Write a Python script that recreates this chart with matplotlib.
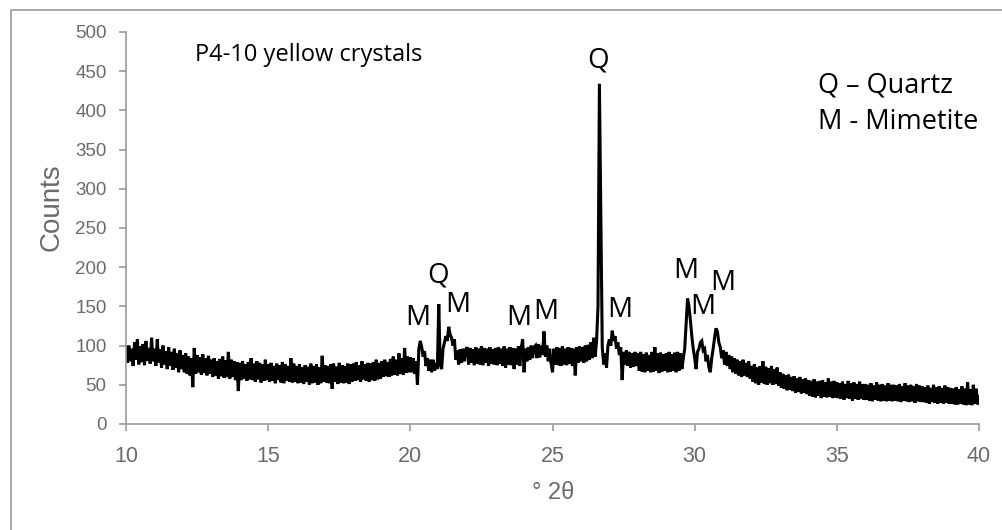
import numpy as np
import matplotlib
matplotlib.use("Agg")
import matplotlib.pyplot as plt
from matplotlib.patches import Rectangle

# ---- data (counts, 2-theta step 0.05 deg from 10 to 40) ----
counts = [
    98, 78, 100, 80, 96, 74, 104, 82, 108, 76, 99, 79, 102, 75, 106, 81, 97, 77, 110, 80,      # 10
    96, 74, 108, 78, 95, 72, 100, 76, 93, 70, 98, 74, 92, 69, 96, 72, 90, 66, 94, 70,          # 11
    88, 66, 90, 64, 86, 62, 84, 47, 97, 64, 88, 66, 85, 63, 89, 65, 84, 62, 87, 64,            # 12
    82, 60, 84, 62, 80, 58, 83, 61, 86, 59, 81, 60, 92, 58, 82, 60, 80, 56, 79, 42,            # 13
    78, 56, 80, 58, 76, 55, 79, 57, 84, 56, 77, 54, 80, 57, 78, 53, 76, 55, 82, 56,            # 14
    76, 54, 78, 55, 74, 52, 77, 56, 75, 53, 79, 52, 76, 55, 74, 54, 84, 53, 77, 54,            # 15
    74, 52, 76, 53, 72, 51, 75, 54, 73, 50, 77, 52, 74, 53, 76, 50, 72, 52, 87, 54,            # 16
    75, 53, 74, 52, 76, 45, 77, 54, 73, 51, 78, 53, 75, 52, 74, 53, 77, 51, 76, 54,            # 17
    77, 55, 79, 56, 75, 54, 80, 57, 76, 55, 78, 54, 77, 56, 79, 55, 82, 57, 78, 58,            # 18
    80, 60, 82, 61, 79, 60, 83, 62, 86, 63, 82, 62, 90, 64, 84, 63, 97, 65, 86, 66,            # 19
    85, 66, 84, 64, 80, 50, 96, 106, 98, 86, 93, 74, 84, 68, 82, 66, 82, 68, 78, 70,           # 20
    153, 76, 70, 96, 104, 112, 106, 124, 114, 110, 100, 108, 82, 94, 76, 95, 78, 96, 80, 95,   # 21
    98, 76, 97, 78, 95, 75, 98, 77, 96, 76, 99, 75, 97, 78, 96, 74, 98, 77, 95, 76,            # 22
    97, 75, 98, 77, 96, 74, 99, 72, 96, 76, 98, 75, 97, 70, 96, 76, 99, 74, 97, 108,           # 23
    66, 96, 80, 98, 82, 100, 84, 98, 100, 84, 102, 85, 100, 88, 118, 86, 100, 80, 96, 78,      # 24
    66, 96, 76, 98, 75, 97, 74, 99, 76, 96, 75, 98, 77, 97, 74, 96, 62, 98, 78, 99,            # 25
    80, 98, 78, 100, 80, 101, 82, 104, 84, 110, 86, 106, 150, 434, 262, 98, 76, 90, 72, 100,   # 26
    108, 100, 119, 106, 112, 96, 104, 88, 98, 56, 92, 76, 94, 74, 92, 72, 90, 73, 92, 74,      # 27
    90, 68, 92, 67, 89, 66, 91, 68, 88, 66, 92, 67, 98, 68, 90, 65, 91, 67, 89, 68,            # 28
    90, 66, 92, 67, 89, 68, 91, 66, 92, 68, 90, 70, 84, 96, 128, 160, 150, 132, 112, 96,       # 29
    84, 70, 92, 96, 104, 106, 94, 96, 80, 88, 72, 66, 84, 96, 110, 122, 118, 104, 98, 84,      # 30
    94, 76, 92, 74, 88, 70, 86, 66, 84, 64, 82, 62, 80, 60, 82, 62, 78, 60, 80, 58,            # 31
    74, 54, 76, 52, 72, 50, 74, 53, 80, 51, 73, 50, 71, 52, 74, 50, 70, 51, 72, 49,            # 32
    66, 46, 64, 45, 62, 43, 63, 44, 60, 42, 61, 40, 58, 41, 60, 39, 57, 40, 58, 38,            # 33
    56, 36, 55, 35, 57, 34, 54, 36, 55, 33, 56, 35, 53, 34, 58, 35, 54, 33, 55, 34,            # 34
    53, 33, 52, 32, 54, 31, 51, 33, 55, 32, 52, 30, 53, 32, 51, 31, 54, 32, 51, 31,            # 35
    51, 31, 50, 30, 52, 29, 49, 31, 53, 30, 50, 29, 51, 30, 49, 29, 52, 30, 50, 29,            # 36
    50, 30, 49, 29, 51, 28, 48, 30, 52, 29, 49, 28, 50, 29, 48, 27, 51, 29, 49, 28,            # 37
    48, 28, 47, 27, 49, 26, 46, 28, 50, 27, 47, 26, 48, 27, 46, 26, 49, 27, 47, 26,            # 38
    46, 26, 45, 25, 47, 25, 44, 26, 48, 25, 45, 24, 53, 25, 44, 24, 50, 26, 45, 25,            # 39
    35,                                                                                        # 40
]
two_theta = np.linspace(10, 40, len(counts))

peak_labels = ['Q', 'M', 'Q', 'M', 'M', 'M', 'M', 'M', 'M', 'M']
peak_label_x = [26.60, 20.27, 20.97, 21.68, 23.82, 24.77, 27.38, 29.70, 30.30, 31.00]
peak_label_y = [464, 135, 190, 152, 135, 143, 145, 195, 149, 180]

x_ticks = [10, 15, 20, 25, 30, 35, 40]
y_ticks = [0, 50, 100, 150, 200, 250, 300, 350, 400, 450, 500]

title_text = "P4-10 yellow crystals"
legend_lines = ["Q \u2013 Quartz", "M - Mimetite"]

# ---- figure ----
W, H = 1003, 530
fig = plt.figure(figsize=(W / 100, H / 100), dpi=100)
ax = fig.add_axes([126 / W, 1 - 424 / H, (979 - 126) / W, (424 - 32) / H])

grey = '#9a9a9a'
label_grey = '#6b6b6b'

ax.plot(two_theta, counts, color='black', lw=2.2, solid_joinstyle='miter')

ax.set_xlim(10, 40)
ax.set_ylim(0, 500)
ax.set_xticks(x_ticks)
ax.set_yticks(y_ticks)
for s in ['top', 'right']:
    ax.spines[s].set_visible(False)
for s in ['left', 'bottom']:
    ax.spines[s].set_color(grey)
    ax.spines[s].set_linewidth(1.2)
ax.tick_params(axis='both', direction='out', color=grey, width=1.2, length=5,
               labelcolor=label_grey)
ax.tick_params(axis='y', labelsize=13.5, pad=9)
ax.tick_params(axis='x', labelsize=15.5, pad=11)
for lab in ax.get_xticklabels() + ax.get_yticklabels():
    lab.set_fontfamily('Liberation Sans')

ax.set_ylabel("Counts", fontsize=20, color=label_grey, family='Liberation Sans')
ax.yaxis.set_label_coords((52 - 126) / 853, (424 - 207) / 392)
ax.yaxis.label.set_va('center')
ax.set_xlabel("\u00b0 2\u03b8", fontsize=17, color=label_grey, family='Liberation Sans')
ax.xaxis.set_label_coords((553 - 126) / 853, (424 - 493) / 392)
ax.xaxis.label.set_va('center')

ax.text(12.43, 471, title_text, fontsize=17, family='Open Sans', color='black',
        ha='left', va='center')

for lab, lx, ly in zip(peak_labels, peak_label_x, peak_label_y):
    ax.text(lx, ly, lab, fontsize=20, family='Open Sans', color='black',
            ha='center', va='center')

ax.text(34.34, 432, legend_lines[0], fontsize=19.5, family='Open Sans', color='black',
        ha='left', va='center')
ax.text(34.34, 385, legend_lines[1], fontsize=19.5, family='Open Sans', color='black',
        ha='left', va='center')

# chart-area border (top and left visible)
fig.patches.append(Rectangle((11 / W, -0.1), 1.2, 1.1 - 10 / H, transform=fig.transFigure,
                             fill=False, edgecolor=grey, lw=1.2, clip_on=False))

fig.savefig("out.png", dpi=100)
